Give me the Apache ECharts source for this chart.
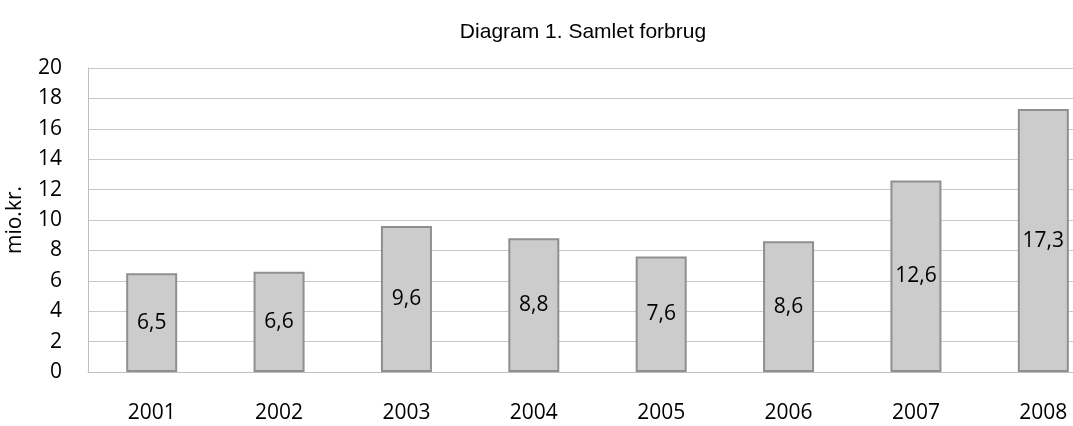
<!DOCTYPE html>
<html>
<head>
<meta charset="utf-8">
<script src="https://cdn.jsdelivr.net/npm/echarts@6/dist/echarts.min.js"></script>
<style>
  html, body { margin: 0; padding: 0; background: #fff; }
  #chart { width: 1073px; height: 426px; }
</style>
</head>
<body>
<div id="chart"></div>
<script>
// aar og samlet forbrug (mio. kr.)
const years = ['2001', '2002', '2003', '2004', '2005', '2006', '2007', '2008']
const forbrug = [6.5, 6.6, 9.6, 8.8, 7.6, 8.6, 12.6, 17.3]

const myChart = echarts.init(document.getElementById('chart'))

const option = {
  animation: false,
  title: {
    text: 'Diagram 1. Samlet forbrug',
    left: 578,
    top: 17,
    textAlign: 'center',
    textStyle: {
      fontFamily: 'Liberation Sans',
      fontSize: 21,
      fontWeight: 'normal',
      color: '#000'
    }
  },
  grid: {
    left: 88,
    top: 68,
    right: -34,
    bottom: 54,
    outerBoundsMode: 'none'
  },
  xAxis: {
    type: 'category',
    data: years,
    axisLine: { lineStyle: { color: '#bfbfbf', width: 1 } },
    axisTick: { show: false },
    axisLabel: {
      fontFamily: 'Open Sans',
      fontSize: 21,
      color: '#000',
      margin: 31
    }
  },
  yAxis: {
    type: 'value',
    min: 0,
    max: 20,
    interval: 2,
    name: 'mio.kr.',
    nameLocation: 'middle',
    nameGap: 62,
    nameTextStyle: { fontFamily: 'Open Sans', fontSize: 21, color: '#000' },
    axisLine: { show: true, lineStyle: { color: '#bfbfbf', width: 1 } },
    axisTick: { show: false },
    splitLine: { lineStyle: { color: '#c8c8c8', width: 1 } },
    axisLabel: {
      fontFamily: 'Open Sans',
      fontSize: 21,
      color: '#000',
      margin: 26
    }
  },
  series: [
    {
      type: 'bar',
      data: forbrug,
      barWidth: 51,
      itemStyle: {
        color: '#cccccc',
        borderColor: '#8f8f8f',
        borderWidth: 2
      },
      label: {
        show: true,
        position: 'inside',
        fontFamily: 'Open Sans',
        fontSize: 21,
        color: '#000',
        formatter: (p) => String(p.value).replace('.', ',')
      }
    }
  ]
}

myChart.setOption(option)
</script>
</body>
</html>
